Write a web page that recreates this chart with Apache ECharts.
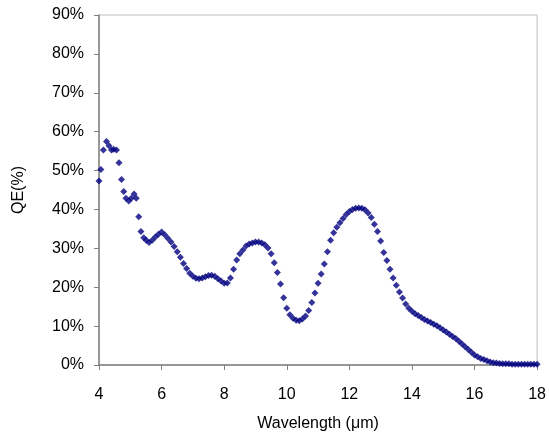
<!DOCTYPE html>
<html>
<head>
<meta charset="utf-8">
<script src="https://cdn.jsdelivr.net/npm/echarts@6/dist/echarts.min.js"></script>
<style>
  html, body { margin: 0; padding: 0; background: #fff; }
  #chart { width: 549px; height: 438px; }
</style>
</head>
<body>
<div id="chart"></div>
<script>
// wavelength (um) of each measured point
var wavelength = [
  4.00, 4.06, 4.14, 4.24, 4.32, 4.40, 4.47, 4.56, 4.64, 4.72, 4.79, 4.86, 4.95, 5.03, 5.12, 5.19, 5.27, 5.34, 5.43, 5.51,
  5.6, 5.7, 5.8, 5.9, 6.0, 6.1, 6.2, 6.3, 6.4, 6.5, 6.6, 6.7, 6.8, 6.9, 7.0, 7.1, 7.2, 7.3, 7.4, 7.5,
  7.6, 7.7, 7.8, 7.9, 8.0, 8.1, 8.2, 8.3, 8.4, 8.5, 8.6, 8.7, 8.8, 8.9, 9.0, 9.1, 9.2, 9.3, 9.4, 9.5,
  9.6, 9.7, 9.8, 9.9, 10.0, 10.1, 10.2, 10.3, 10.4, 10.5, 10.6, 10.7, 10.8, 10.9, 11.0, 11.1, 11.2, 11.3, 11.4, 11.5,
  11.6, 11.7, 11.8, 11.9, 12.0, 12.1, 12.2, 12.3, 12.4, 12.5, 12.6, 12.7, 12.8, 12.9, 13.0, 13.1, 13.2, 13.3, 13.4, 13.5,
  13.6, 13.7, 13.8, 13.9, 14.0, 14.1, 14.2, 14.3, 14.4, 14.5, 14.6, 14.7, 14.8, 14.9, 15.0, 15.1, 15.2, 15.3, 15.4, 15.5,
  15.6, 15.7, 15.8, 15.9, 16.0, 16.1, 16.2, 16.3, 16.4, 16.5, 16.6, 16.7, 16.8, 16.9, 17.0, 17.1, 17.2, 17.3, 17.4, 17.5,
  17.6, 17.7, 17.8, 17.9, 18.0
];
// quantum efficiency (%)
var qe = [
  47.3, 50.3, 55.3, 57.5, 56.4, 55.3, 55.5, 55.3, 52.0, 47.7, 44.6, 42.9, 42.2, 42.9, 44.0, 42.9, 38.1, 34.3, 32.7, 32.1,
  31.5, 32.1, 32.9, 33.6, 34.2, 33.5, 32.6, 31.6, 30.5, 29.1, 27.7, 26.1, 24.8, 23.6, 22.8, 22.3, 22.2, 22.4, 22.7, 23.0,
  23.1, 22.8, 22.2, 21.6, 21.0, 21.1, 22.4, 24.6, 27.0, 28.6, 29.6, 30.6, 31.1, 31.4, 31.6, 31.6, 31.4, 30.9, 30.1, 28.6,
  26.3, 23.8, 20.8, 17.3, 14.6, 12.9, 12.0, 11.5, 11.4, 11.8, 12.6, 14.0, 16.1, 18.5, 21.0, 23.4, 26.0, 29.1, 32.1, 34.0,
  35.4, 36.6, 37.7, 38.7, 39.5, 40.0, 40.3, 40.4, 40.3, 39.9, 39.1, 37.9, 36.2, 34.3, 31.9, 28.9, 26.9, 24.6, 22.4, 20.5,
  18.8, 17.2, 15.7, 14.6, 13.8, 13.2, 12.7, 12.2, 11.7, 11.3, 10.9, 10.5, 10.1, 9.6, 9.0, 8.5, 7.9, 7.3, 6.8, 6.1,
  5.4, 4.7, 4.0, 3.3, 2.6, 2.1, 1.7, 1.4, 1.1, 0.8, 0.6, 0.5, 0.4, 0.3, 0.3, 0.3, 0.2, 0.2, 0.2, 0.2,
  0.2, 0.2, 0.2, 0.2, 0.2
];

var points = wavelength.map(function (w, i) { return [w, qe[i]]; });

var chart = echarts.init(document.getElementById('chart'));
var font = 'Liberation Sans, Arial, sans-serif';

chart.setOption({
  animation: false,
  grid: {
    left: 99, right: 8, top: 15, bottom: 73,
    show: true,
    borderColor: '#c0c0c0',
    borderWidth: 1
  },
  xAxis: {
    type: 'value',
    min: 4, max: 18, interval: 2,
    name: 'Wavelength (\u03bcm)',
    nameLocation: 'middle',
    nameGap: 51,
    nameTextStyle: { color: '#000', fontSize: 16, fontFamily: font },
    axisLine: { onZero: false, lineStyle: { color: '#808080', width: 1.5 } },
    axisTick: { show: true, length: 5, lineStyle: { color: '#808080' } },
    axisLabel: { color: '#000', fontSize: 16, fontFamily: font, margin: 22 },
    splitLine: { show: false }
  },
  yAxis: {
    type: 'value',
    min: 0, max: 90, interval: 10,
    name: 'QE(%)',
    nameLocation: 'middle',
    nameGap: 72,
    nameTextStyle: { color: '#000', fontSize: 16, fontFamily: font },
    axisLine: { show: true, lineStyle: { color: '#808080', width: 1.5 } },
    axisTick: { show: true, length: 5, lineStyle: { color: '#808080' } },
    axisLabel: { color: '#000', fontSize: 16, fontFamily: font, margin: 15, formatter: '{value}%' },
    splitLine: { show: false }
  },
  series: [{
    type: 'scatter',
    data: points,
    symbol: 'diamond',
    symbolSize: 7,
    itemStyle: { color: '#000080' }
  }]
});
</script>
</body>
</html>
